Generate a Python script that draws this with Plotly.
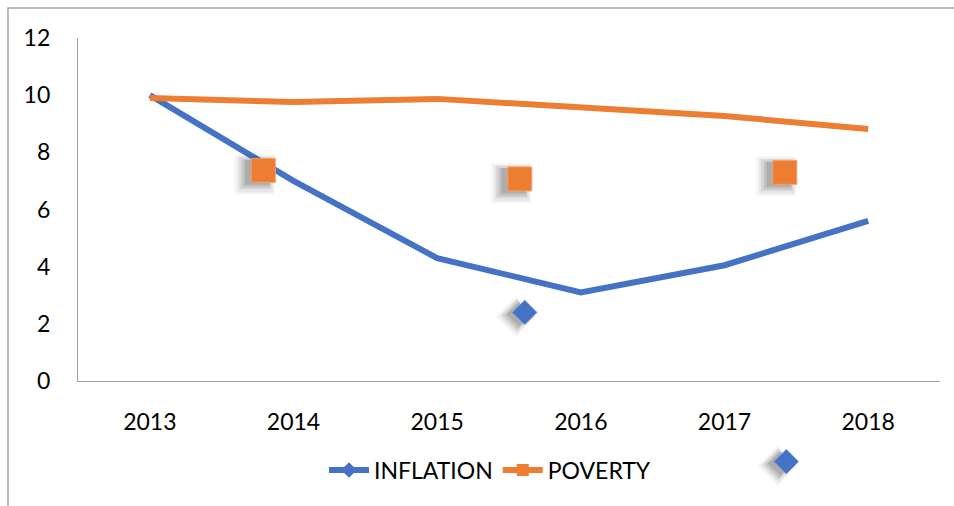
import plotly.graph_objects as go

years = ["2013", "2014", "2015", "2016", "2017", "2018"]
inflation = [10.0, 7.0, 4.3, 3.1, 4.05, 5.6]
poverty = [9.9, 9.76, 9.87, 9.55, 9.27, 8.82]

# stray markers (position along the category axis as fractional index)
stray_sq_x = [0.79, 2.575, 4.42]
stray_sq_y = [7.37, 7.07, 7.30]
stray_di_x = [2.61]
stray_di_y = [2.40]
# stray diamond that sits below the plot area (drawn on a lower, invisible axis pair)
low_di_x = [4.43]
low_di_y = [-2.82]

BLUE = "#4472C4"
ORANGE = "#ED7D31"
FONT = "Lato, 'Liberation Sans', Arial, sans-serif"

W, H = 954, 506
L, R, T = 78, 14, 38
AX_BOTTOM = 381          # pixel row of the x axis
PX_PER_UNIT = (AX_BOTTOM - T) / 12.0
ph = H - T               # paper height (bottom margin 0)
pw = W - L - R

def pxx(p):
    return (p - L) / pw

def pxy(p):
    return (H - p) / ph

main_dom0 = pxy(AX_BOTTOM)
low_dom1 = pxy(AX_BOTTOM + 4)
low_top_val = -(4) / PX_PER_UNIT
low_bot_val = -(H - AX_BOTTOM) / PX_PER_UNIT

xi = list(range(len(years)))

fig = go.Figure()

fig.add_trace(go.Scatter(x=xi, y=inflation, mode="lines", line=dict(color=BLUE, width=6),
                         showlegend=False, hoverinfo="skip"))
fig.add_trace(go.Scatter(x=xi, y=poverty, mode="lines", line=dict(color=ORANGE, width=6),
                         showlegend=False, hoverinfo="skip"))

px_x = 1 / (pw / 6.0)
px_y = 1 / PX_PER_UNIT
layers = [(-9, -4, 0.04, 16), (-8, -4, 0.05, 12), (-8, -3, 0.07, 8), (-7, -3, 0.09, 4), (-6, -2, 0.11, 1)]
for dx, dy, op, grow in layers:
    col = "rgba(0,0,0,%.3f)" % op
    fig.add_trace(go.Scatter(
        x=[v + dx * px_x for v in stray_sq_x], y=[v + dy * px_y for v in stray_sq_y],
        mode="markers", marker=dict(symbol="square", size=24 + grow, color=col, line=dict(width=0)),
        showlegend=False, hoverinfo="skip"))
    fig.add_trace(go.Scatter(
        x=[v + dx * px_x for v in stray_di_x], y=[v + dy * px_y for v in stray_di_y],
        mode="markers", marker=dict(symbol="diamond", size=18 + grow * 0.8, color=col, line=dict(width=0)),
        showlegend=False, hoverinfo="skip"))
    fig.add_trace(go.Scatter(
        x=[v + dx * px_x for v in low_di_x], y=[v + dy * px_y for v in low_di_y],
        xaxis="x2", yaxis="y2",
        mode="markers", marker=dict(symbol="diamond", size=18 + grow * 0.8, color=col, line=dict(width=0)),
        showlegend=False, hoverinfo="skip"))

fig.add_trace(go.Scatter(x=stray_sq_x, y=stray_sq_y, mode="markers",
                         marker=dict(symbol="square", size=24, color=ORANGE, line=dict(color="#F4A070", width=1)),
                         showlegend=False, hoverinfo="skip"))
fig.add_trace(go.Scatter(x=stray_di_x, y=stray_di_y, mode="markers",
                         marker=dict(symbol="diamond", size=18.5, color=BLUE, line=dict(color="#5B86D6", width=1)),
                         showlegend=False, hoverinfo="skip"))
fig.add_trace(go.Scatter(x=low_di_x, y=low_di_y, mode="markers", xaxis="x2", yaxis="y2",
                         marker=dict(symbol="diamond", size=18.5, color=BLUE, line=dict(color="#5B86D6", width=1)),
                         showlegend=False, hoverinfo="skip"))

# legend entries
fig.add_trace(go.Scatter(x=[None], y=[None], mode="lines+markers", name="INFLATION",
                         line=dict(color=BLUE, width=6), marker=dict(symbol="diamond", size=12, color=BLUE)))
fig.add_trace(go.Scatter(x=[None], y=[None], mode="lines+markers", name="POVERTY",
                         line=dict(color=ORANGE, width=6), marker=dict(symbol="square", size=12, color=ORANGE)))

fig.add_shape(type="rect", xref="paper", yref="paper",
              x0=pxx(8), y0=pxy(530), x1=pxx(980), y1=pxy(8),
              line=dict(color="#a6a6a6", width=1.5), fillcolor="rgba(0,0,0,0)", layer="below")

fig.update_layout(
    width=W, height=H,
    margin=dict(l=L, r=R, t=T, b=0, autoexpand=False),
    paper_bgcolor="white", plot_bgcolor="white",
    font=dict(family=FONT, size=23, color="#000000"),
    showlegend=True,
    legend=dict(orientation="h", x=pxx(490), y=pxy(470), xanchor="center", yanchor="middle",
                font=dict(family=FONT, size=23, color="#000000"), bgcolor="rgba(0,0,0,0)",
                itemwidth=40, tracegroupgap=0),
    xaxis=dict(range=[-0.5, 5.5], tickmode="array", tickvals=xi, ticktext=years,
               showgrid=False, zeroline=False, showline=True, linecolor="#a0a0a0", linewidth=1.3,
               ticks="outside", ticklen=20, tickcolor="rgba(0,0,0,0)", fixedrange=True,
               anchor="y", automargin=False),
    yaxis=dict(range=[0, 12], dtick=2, showgrid=False, zeroline=False, showline=True,
               linecolor="#a0a0a0", linewidth=1.3, ticks="outside", ticklen=22,
               tickcolor="rgba(0,0,0,0)", fixedrange=True, domain=[main_dom0, 1],
               anchor="x", automargin=False),
    xaxis2=dict(range=[-0.5, 5.5], visible=False, anchor="y2", fixedrange=True),
    yaxis2=dict(range=[low_bot_val, low_top_val], visible=False, domain=[0, low_dom1],
                anchor="x2", fixedrange=True),
)

fig.write_html("out.html", config={"displayModeBar": False},
               post_script="document.body.style.margin='0';")
